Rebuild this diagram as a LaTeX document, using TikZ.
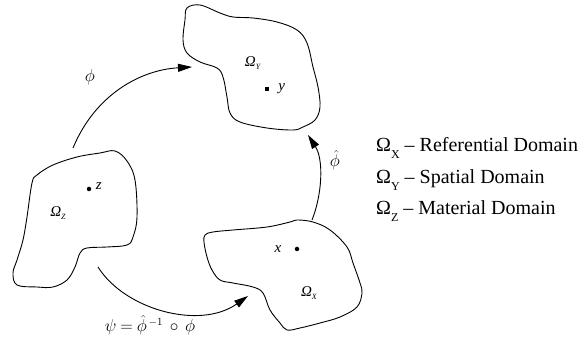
\documentclass[tikz,border=0pt]{standalone}
\usepackage{fontspec}
\setmainfont{Liberation Serif}
\usepackage{amsmath}
\usetikzlibrary{arrows.meta,positioning}
\tikzset{>={Triangle[length=14pt,width=8pt]}}
\newcommand{\sub}[1]{\raisebox{-7pt}{\fontsize{12}{12}\selectfont #1}}
\newcommand{\dom}[1]{\textit{Ω}\raisebox{-3pt}{\fontsize{8}{8}\selectfont\textit{#1}}}
\begin{document}
\begin{tikzpicture}[x=1pt,y=-1pt,
    blob/.style={line width=0.9pt},
    map/.style={->,line width=0.9pt},
    pt/.style={circle,fill,inner sep=0pt,minimum size=4.5pt},
    lbl/.style={font=\fontsize{15}{17}\selectfont,inner sep=1pt},
    mlbl/.style={font=\fontsize{19}{21}\selectfont,inner sep=1pt},
    legend/.style={anchor=base west,font=\fontsize{20}{24}\selectfont,inner sep=0pt}]
  \useasboundingbox (0,0) rectangle (582,344);

  % spatial domain
  \draw[blob] plot[smooth cycle,tension=0.6] coordinates {
    (187,8) (200,5) (220,13) (233,17) (253,18) (277,22) (297,30) (307,43)
    (313,67) (318,87) (320,107) (315,120) (303,127) (293,130) (267,128)
    (240,122) (230,113) (227,97) (223,77) (217,68) (200,62) (187,53) (183,40) (185,20)};
  % material domain
  \draw[blob] plot[smooth cycle,tension=0.6] coordinates {
    (100,153) (115,151) (127,161) (135,180) (137,217) (133,237) (127,245)
    (107,247) (87,248) (80,253) (75,267) (67,280) (53,287) (37,287)
    (17,285) (13,273) (17,260) (23,240) (27,217) (32,183) (37,175) (53,165) (77,157)};
  % referential domain
  \draw[blob] plot[smooth cycle,tension=0.6] coordinates {
    (205,235) (213,232) (233,230) (267,227) (290,222) (297,220) (313,222)
    (330,230) (347,247) (353,263) (360,283) (362,293) (357,307) (340,317)
    (320,323) (300,328) (287,330) (280,323) (270,310) (263,293) (253,287)
    (233,283) (220,280) (212,270) (207,257) (204,242)};

  \node[lbl] (omy) at (253,63) {\dom{Y}};
  \node[lbl] (omz) at (58,213) {\dom{Z}};
  \node[lbl] (omx) at (309,293) {\dom{X}};

  \node[pt,rectangle,minimum size=4pt] (y) at (267,89) {};
  \node[lbl,right=8pt of y] (ylbl) {\textit{y}};
  \node[pt] (z) at (89,189) {};
  \node[lbl,above right=-3pt and 4pt of z] (zlbl) {\textit{z}};
  \node[pt] (x) at (297,249) {};
  \node[lbl,left=12pt of x] (xlbl) {\textit{x}};

  % mappings
  \coordinate (phiA) at (73,148);
  \coordinate (phiB) at (192,67);
  \draw[map] (phiA) .. controls (95,95) and (140,70) .. (phiB);
  \node[mlbl] (phi) at (90,77) {$\phi$};

  \coordinate (psiA) at (98,267);
  \coordinate (psiB) at (248,296);
  \draw[map] (psiA) .. controls (125,310) and (200,330) .. (psiB);
  \node[lbl,font=\fontsize{16}{18}\selectfont] (psi) at (150,325)
    {$\psi\ {=}\ \hat{\phi}^{\,-1}\,\circ\,\phi$};

  \coordinate (hatA) at (312,220);
  \coordinate (hatB) at (308,135);
  \draw[map] (hatA) .. controls (322,195) and (324,160) .. (hatB);
  \node[mlbl] (hat) at (335,160) {$\hat{\phi}$};

  % legend
  \node[legend] (legx) at (376,152) {Ω\sub{X} – Referential Domain};
  \node[legend] (legy) at (376,184) {Ω\sub{Y} – Spatial Domain};
  \node[legend] (legz) at (376,215) {Ω\sub{Z} – Material Domain};
\end{tikzpicture}
\end{document}
